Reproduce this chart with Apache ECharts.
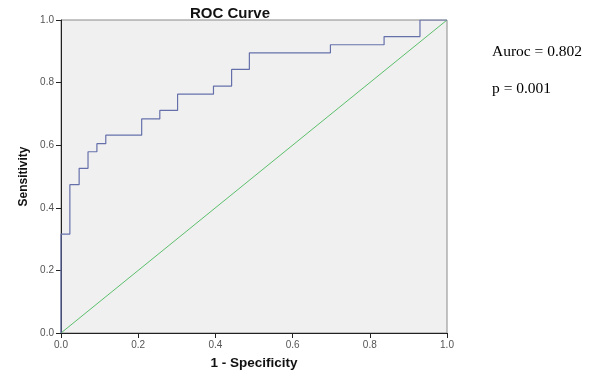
<!DOCTYPE html>
<html>
<head>
<meta charset="utf-8">
<script src="https://cdn.jsdelivr.net/npm/echarts@6/dist/echarts.min.js"></script>
<style>
html,body{margin:0;padding:0;background:#fff;}
#c{width:598px;height:384px;}
</style>
</head>
<body>
<div id="c"></div>
<script>
// ROC points (1 - specificity, sensitivity), drawn as steps
const fpr = [0, 0, 0.023, 0.047, 0.070, 0.093, 0.116, 0.209, 0.256, 0.302, 0.395, 0.442, 0.488, 0.698, 0.837, 0.930, 1];
const tpr = [0, 0.316, 0.474, 0.526, 0.579, 0.605, 0.632, 0.684, 0.711, 0.763, 0.789, 0.842, 0.895, 0.921, 0.947, 1, 1];
const refX = [0, 1];
const refY = [0, 1];
const axisTicks = [0, 0.2, 0.4, 0.6, 0.8, 1.0];
const titleText = 'ROC Curve';
const xName = '1 - Specificity';
const yName = 'Sensitivity';
const notes = ['Auroc = 0.802', 'p = 0.001'];

const chart = echarts.init(document.getElementById('c'), null, {renderer: 'canvas'});
const lbl = {fontFamily: 'Liberation Sans, Arial, sans-serif', fontSize: 10, color: '#555'};
chart.setOption({
  animation: false,
  backgroundColor: '#fff',
  title: {
    text: titleText, left: 225, top: 1, textAlign: 'center',
    textStyle: {fontFamily: 'Liberation Sans, Arial, sans-serif', fontSize: 15, fontWeight: 'bold', color: '#111'}
  },
  grid: {left: 61, right: 151, top: 20, bottom: 51, show: true, backgroundColor: '#f0f0f0', borderColor: '#8a8a8a', borderWidth: 1},
  xAxis: {
    type: 'value', min: 0, max: 1, interval: 0.2,
    name: xName, nameLocation: 'middle', nameGap: 23,
    nameTextStyle: {fontFamily: 'Liberation Sans, Arial, sans-serif', fontSize: 13.5, fontWeight: 'bold', color: '#111'},
    axisLine: {show: true, lineStyle: {color: '#222', width: 1}},
    axisTick: {show: true, inside: false, length: 5, lineStyle: {color: '#222'}},
    axisLabel: Object.assign({margin: 7, formatter: v => axisTicks.includes(+v.toFixed(1)) ? v.toFixed(1) : ''}, lbl),
    splitLine: {show: false}
  },
  yAxis: {
    type: 'value', min: 0, max: 1, interval: 0.2,
    name: yName, nameLocation: 'middle', nameGap: 31, nameRotate: 90,
    nameTextStyle: {fontFamily: 'Liberation Sans, Arial, sans-serif', fontSize: 12, fontWeight: 'bold', color: '#111'},
    axisLine: {show: true, lineStyle: {color: '#222', width: 1}},
    axisTick: {show: true, inside: false, length: 5, lineStyle: {color: '#222'}},
    axisLabel: Object.assign({margin: 7, formatter: v => v.toFixed(1)}, lbl),
    splitLine: {show: false}
  },
  series: [
    {
      type: 'line', data: refX.map((x, i) => [x, refY[i]]), symbol: 'none',
      lineStyle: {color: '#5cbf6c', width: 1}, silent: true
    },
    {
      type: 'line', data: fpr.map((x, i) => [x, tpr[i]]), symbol: 'none', step: 'end',
      lineStyle: {color: '#6570aa', width: 1.2}, silent: true
    }
  ],
  graphic: notes.map((t, i) => ({
    type: 'text', left: 492, top: 44 + i * 37,
    style: {text: t, fontFamily: 'Liberation Serif, Times New Roman, serif', fontSize: 15.5, fill: '#000'}
  }))
});
</script>
</body>
</html>
